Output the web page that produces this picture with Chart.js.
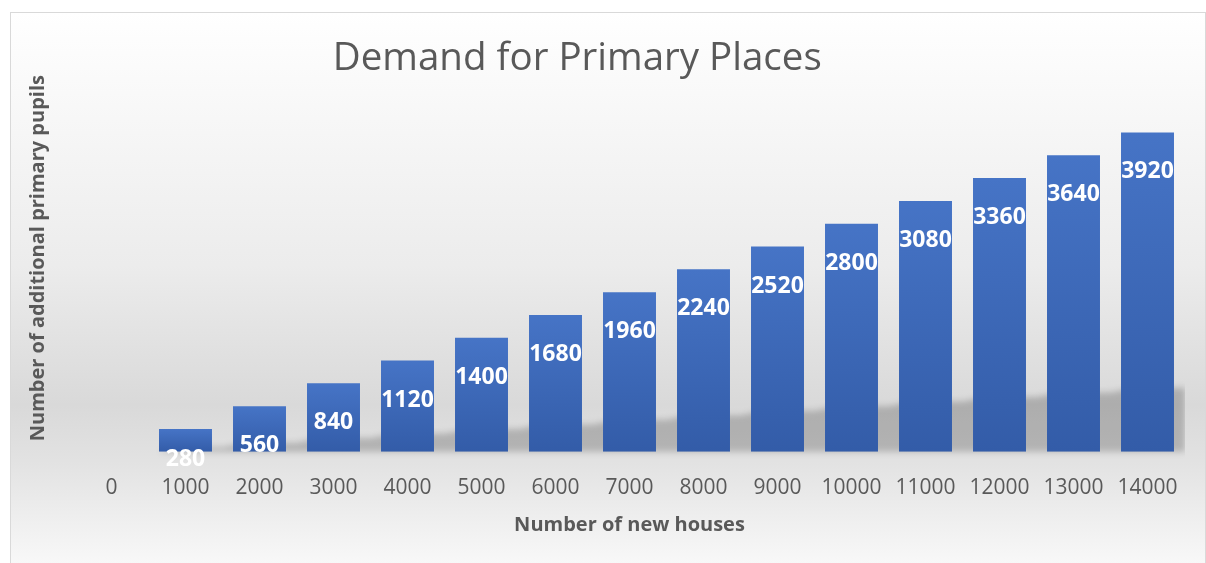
<!DOCTYPE html>
<html>
<head>
<meta charset="utf-8">
<script src="https://cdn.jsdelivr.net/npm/chart.js@4/dist/chart.umd.min.js"></script>
<style>
  html, body { margin: 0; padding: 0; background: #fff; overflow: hidden; width: 1206px; height: 563px; }
  #box {
    position: absolute; left: 10px; top: 12px; width: 1194px; height: 560px;
    border: 1px solid #d9d9d9;
    background: linear-gradient(to bottom, #ffffff 0%, #ececec 45%, #d9d9d9 70%, #e2e2e2 80%, #fafafa 100%);
  }
  #frame {
    position: absolute; left: 10px; top: 12px; width: 1194px; height: 560px;
    border: 1px solid #d9d9d9; pointer-events: none; z-index: 2;
  }
  #demand { position: absolute; left: -30px; top: 13px; z-index: 1; }
</style>
</head>
<body>
<div id="box"></div>
<canvas id="demand" width="1215" height="549"></canvas>
<div id="frame"></div>
<script>
// data
const houses = ['0', '1000', '2000', '3000', '4000', '5000', '6000', '7000',
  '8000', '9000', '10000', '11000', '12000', '13000', '14000'];
const pupils = [null, 280, 560, 840, 1120, 1400, 1680, 1960,
  2240, 2520, 2800, 3080, 3360, 3640, 3920];

const grey = '#595959';
const fontName = "'Open Sans', 'Noto Sans', sans-serif";

// gradient per bar, from its top down to the axis
function barFill(context) {
  const chart = context.chart;
  const v = context.raw;
  if (!chart.chartArea || v == null || !chart.scales.y) return '#4472c4';
  const top = chart.scales.y.getPixelForValue(v);
  const base = chart.scales.y.getPixelForValue(0);
  const g = chart.ctx.createLinearGradient(0, top, 0, base);
  g.addColorStop(0, '#4674c6');
  g.addColorStop(1, '#335ca8');
  return g;
}

// soft shadow band behind the bars, rising with them
const barShadow = {
  id: 'barShadow',
  beforeDatasetsDraw(chart) {
    const ctx = chart.ctx;
    const bars = chart.getDatasetMeta(0).data.filter(function (b, i) { return pupils[i] != null; });
    if (!bars.length) return;
    const base = bars[0].base;
    const shift = 11;
    ctx.save();
    ctx.filter = 'blur(3px)';
    ctx.fillStyle = 'rgba(0,0,0,0.2)';
    ctx.beginPath();
    ctx.moveTo(bars[0].x - bars[0].width / 2, base);
    bars.forEach(function (b) {
      const top = base - (b.base - b.y) * 0.2;
      ctx.lineTo(b.x - b.width / 2 + shift, top);
      ctx.lineTo(b.x + b.width / 2 + shift, top);
    });
    const last = bars[bars.length - 1];
    ctx.lineTo(last.x + last.width / 2 + shift, base);
    ctx.closePath();
    ctx.fill();
    ctx.restore();
  }
};

// white value labels just inside the top of each bar
const valueLabels = {
  id: 'valueLabels',
  afterDatasetsDraw(chart) {
    const ctx = chart.ctx;
    const meta = chart.getDatasetMeta(0);
    ctx.save();
    ctx.font = 'bold 23px ' + fontName;
    ctx.fillStyle = '#ffffff';
    ctx.textAlign = 'center';
    ctx.textBaseline = 'alphabetic';
    meta.data.forEach(function (bar, i) {
      if (pupils[i] == null) return;
      const y = Math.min(bar.y + 46, bar.base + 14);
      ctx.fillText(String(pupils[i]), bar.x, y);
    });
    ctx.restore();
  }
};

const ctx = document.getElementById('demand').getContext('2d');
const demandChart = new Chart(ctx, {
  type: 'bar',
  data: {
    labels: houses,
    datasets: [{
      label: 'Number of additional primary pupils',
      data: pupils,
      backgroundColor: barFill,
      borderWidth: 0,
      categoryPercentage: 1,
      barPercentage: 0.716
    }]
  },
  options: {
    responsive: false,
    animation: false,
    layout: { padding: { left: 0, right: 0.5, top: 0, bottom: 21 } },
    plugins: {
      legend: { display: false },
      tooltip: { enabled: false },
      title: {
        display: true,
        text: 'Demand for Primary Places',
        color: grey,
        font: { family: fontName, size: 38.5, weight: 'normal' },
        padding: { top: 23, bottom: 3 }
      }
    },
    scales: {
      x: {
        grid: { display: false, drawTicks: true, tickLength: 21 },
        border: { display: false },
        ticks: { color: grey, font: { family: fontName, size: 21 }, padding: 3, maxRotation: 0, autoSkip: false },
        title: {
          display: true,
          text: 'Number of new houses',
          color: grey,
          font: { family: fontName, size: 20, weight: 'bold' },
          padding: { top: 9, bottom: 4 }
        }
      },
      y: {
        min: 0,
        max: 4500,
        grid: { display: false, drawTicks: false },
        border: { display: false },
        ticks: { display: false },
        title: {
          display: true,
          text: '    Number of additional primary pupils',
          color: grey,
          font: { family: fontName, size: 20, weight: 'bold' },
          padding: { top: 56, bottom: 0 }
        },
        afterFit(scale) { scale.width = 104.5; }
      }
    }
  },
  plugins: [barShadow, valueLabels]
});
</script>
</body>
</html>
